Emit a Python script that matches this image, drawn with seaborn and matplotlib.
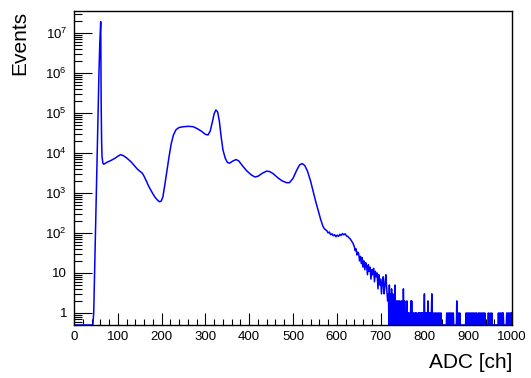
import matplotlib
matplotlib.use('Agg')
import matplotlib.pyplot as plt
import matplotlib.ticker as mticker
import numpy as np
import pandas as pd
import seaborn as sns


# main spectrum (channel, events)
adc_ch = [
  0, 43, 45, 47, 49, 51, 53, 55, 57, 59, 61, 62, 63, 64, 66, 68, 75, 85, 95, 100,
  106, 112, 120, 130, 140, 145, 150, 156, 160, 165, 170, 175, 180, 185, 190, 195,
  199, 203, 207, 212, 217, 222, 227, 233, 240, 250, 262, 272, 282, 292, 300, 306,
  311, 316, 320, 324, 328, 332, 336, 340, 345, 350, 355, 362, 370, 376, 385, 395,
  405, 413, 420, 430, 440, 447, 455, 465, 475, 485, 492, 500, 508, 515, 521, 527,
  533, 540, 546, 552, 558, 563, 568, 571, 574, 577, 580, 583, 586, 589, 592, 595,
  598, 601, 604, 607, 610, 613, 616, 619, 622, 625, 628, 631, 634, 637, 640, 642,
  644, 646, 648, 650, 652, 654, 656, 658, 660, 662, 664, 666, 668, 670, 672, 674,
  676, 678, 680, 682, 684, 686, 688, 690, 692, 694, 696, 698, 700, 702, 704, 706,
  708, 710, 712, 714, 716, 718,
]
events = [
  0, 0, 1, 10, 100, 1000, 1e4, 1e5, 1e6, 6e6, 1.9e7, 2e5, 2e4, 8000, 5500, 5200, 5800, 6500, 7500, 8200,
  9000, 8600, 7500, 6000, 4500, 3900, 3500, 3100, 2600, 2000, 1500, 1200, 950, 780, 670, 600,
  620, 800, 1500, 3500, 8000, 17000, 28000, 38000, 43000, 45000, 46000, 45000, 40000, 34000, 29000, 28000,
  35000, 60000, 95000, 118000, 105000, 60000, 25000, 12000, 7500, 5800, 5500, 6200, 6800, 6300, 4700, 3500,
  2800, 2500, 2600, 3100, 3500, 3400, 3000, 2400, 2000, 1800, 1800, 2300, 3600, 5000, 5400, 4800,
  3500, 2000, 1100, 600, 350, 220, 150, 130, 120, 115, 100, 105, 90, 95, 85, 90,
  80, 88, 82, 92, 86, 96, 90, 95, 84, 82, 75, 70, 62, 55, 45, 36,
  40, 28, 33, 30, 20, 26, 17, 24, 14, 20, 12, 18, 15, 9, 16, 11,
  14, 7, 12, 9, 13, 6, 11, 8, 10, 4, 9, 5, 7, 3, 6, 8,
  3, 5, 9, 4, 2, 3,
]

# sparse tail above ch 719: channels that got any events
tail_ch = [
  720, 722, 723, 725, 726, 728, 730, 731, 733, 735, 736, 738, 739, 741, 743, 744,
  746, 748, 749, 752, 753, 755, 757, 760, 762, 764, 767, 769, 771, 773, 775, 778,
  780, 782, 786, 788, 790, 791, 793, 795, 797, 799, 800, 802, 804, 806, 808, 810,
  812, 814, 816, 817, 820, 823, 826, 829, 832, 835, 838, 851, 854, 857, 860, 863,
  866, 874, 878, 881, 895, 898, 901, 904, 907, 910, 913, 916, 919, 923, 926, 929,
  932, 935, 938, 946, 950, 954, 969, 972, 975, 978, 980, 988, 991, 994, 997, 999,
]
tail_n = [
  5, 3, 2, 4, 2, 3, 2, 1, 5, 2, 1, 2, 1, 2, 1, 2,
  1, 2, 1, 4, 1, 2, 1, 2, 1, 1, 1, 2, 2, 1, 1, 1,
  1, 1, 1, 1, 1, 1, 1, 1, 1, 1, 3, 1, 1, 1, 2, 1,
  1, 1, 1, 3, 1, 1, 1, 1, 1, 1, 1, 1, 1, 1, 1, 1,
  1, 2, 1, 1, 1, 1, 1, 1, 1, 1, 1, 1, 1, 1, 1, 1,
  1, 1, 1, 1, 1, 1, 1, 1, 1, 1, 1, 1, 1, 1, 1, 1,
]

y_min, y_max = 0.5, 3.5e7

# full 1-channel tail, empty channels stay at zero
tail_all = np.arange(719, 1001)
tail_counts = np.zeros(len(tail_all))
tail_counts[np.searchsorted(tail_all, tail_ch)] = tail_n

df = pd.DataFrame({
  'ch': np.concatenate([adc_ch, tail_all]),
  'n': np.concatenate([events, tail_counts]),
})
# empty bins are drawn on the frame like ROOT does
df['n_plot'] = df['n'].clip(lower=y_min)

sns.set_style('ticks')
plt.rcParams['font.family'] = ['Liberation Sans', 'DejaVu Sans']
plt.rcParams['mathtext.fontset'] = 'custom'
plt.rcParams['mathtext.rm'] = 'Liberation Sans'
plt.rcParams['mathtext.it'] = 'Liberation Sans'
plt.rcParams['text.color'] = 'black'

fig = plt.figure(figsize=(5.31, 3.78), dpi=100)
ax = fig.add_axes([74 / 531, 53 / 378, 438 / 531, 314 / 378])

sns.lineplot(data=df, x='ch', y='n_plot', estimator=None, sort=False,
             color='#0000ff', lw=1.1, ax=ax)

ax.set_yscale('log')
ax.set_xlim(0, 1000)
ax.set_ylim(y_min, y_max)

ax.xaxis.set_major_locator(mticker.MultipleLocator(100))
ax.xaxis.set_minor_locator(mticker.MultipleLocator(20))

y_ticks = [1, 10, 1e2, 1e3, 1e4, 1e5, 1e6, 1e7]
y_labels = ['1', '10'] + [f'$10^{{{k}}}$' for k in range(2, 8)]
ax.yaxis.set_major_locator(mticker.FixedLocator(y_ticks))
ax.yaxis.set_major_formatter(mticker.FixedFormatter(y_labels))
ax.yaxis.set_minor_locator(mticker.LogLocator(base=10, subs=np.arange(2, 10), numticks=20))
ax.yaxis.set_minor_formatter(mticker.NullFormatter())

ax.tick_params(axis='both', which='both', direction='in', labelsize=9.5,
               top=False, right=False, colors='black', labelcolor='black', width=0.8)
ax.tick_params(axis='y', which='major', length=13, pad=5)
ax.tick_params(axis='y', which='minor', length=6)
ax.tick_params(axis='x', which='major', length=9, pad=4)
ax.tick_params(axis='x', which='minor', length=4)

for s in ax.spines.values():
  s.set_visible(True)
  s.set_color('black')
  s.set_linewidth(1.0)

ax.set_xlabel('')
ax.set_ylabel('')
fig.text(512 / 531, 1 - 363 / 378, 'ADC [ch]', ha='right', va='center', fontsize=15, color='black')
fig.text(20 / 531, 1 - 11 / 378, 'Events', ha='center', va='top', rotation=90, fontsize=15, color='black')

fig.savefig('out.png', dpi=100)
